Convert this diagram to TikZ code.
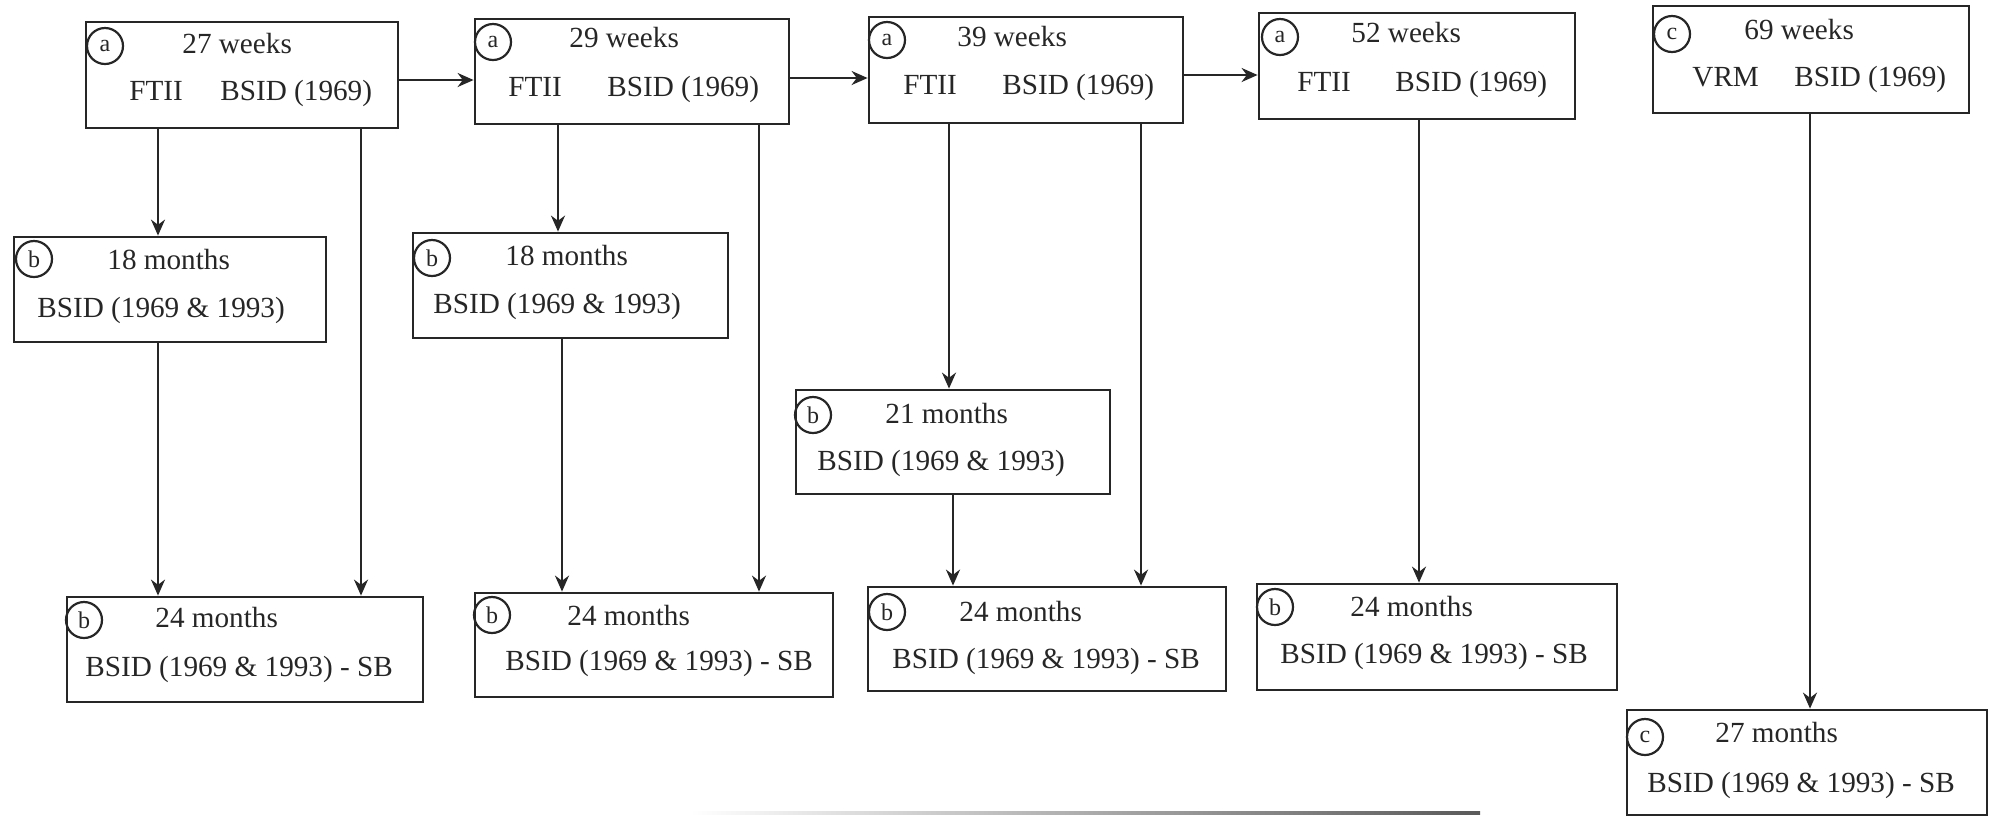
\documentclass[tikz,border=0pt]{standalone}
\usepackage{fontspec}
\setmainfont{Liberation Serif}
\usetikzlibrary{arrows.meta,fit}
\definecolor{ink}{HTML}{262626}
\tikzset{
  box/.style={draw=ink, line width=1.4pt, rectangle, inner sep=0pt},
  txt/.style={anchor=base west, inner sep=0pt, text=ink, font=\fontsize{14.6pt}{16pt}\selectfont},
  tag/.style={draw=ink, circle, line width=1.1pt, minimum size=18pt, inner sep=0pt, text=ink, font=\fontsize{12pt}{13pt}\selectfont},
  arr/.style={draw=ink, line width=1.1pt, -{Stealth[length=8pt,width=7pt]}},
}
\begin{document}
\begin{tikzpicture}[x=0.5pt,y=-0.5pt]
\useasboundingbox (0,0) rectangle (1991,816);
% ---------- boxes ----------
\node[box, fit={(86,22) (398,128)}] (A1) {};
\node[box, fit={(475,19) (789,124)}] (A2) {};
\node[box, fit={(869,17) (1183,123)}] (A3) {};
\node[box, fit={(1259,13) (1575,119)}] (A4) {};
\node[box, fit={(1653,6) (1969,113)}] (D) {};
\node[box, fit={(14,237) (326,342)}] (B1) {};
\node[box, fit={(413,233) (728,338)}] (B2) {};
\node[box, fit={(796,390) (1110,494)}] (B3) {};
\node[box, fit={(67,597) (423,702)}] (C1) {};
\node[box, fit={(475,593) (833,697)}] (C2) {};
\node[box, fit={(868,587) (1226,691)}] (C3) {};
\node[box, fit={(1257,584) (1617,690)}] (C4) {};
\node[box, fit={(1627,710) (1987,815)}] (E) {};
% ---------- circled tags ----------
\node[tag] (A1c) at (105,46) {a};
\node[tag] (A2c) at (493,42) {a};
\node[tag] (A3c) at (887,40) {a};
\node[tag] (A4c) at (1280,37) {a};
\node[tag] (Dc) at (1672,34) {c};
\node[tag] (B1c) at (34,259) {b};
\node[tag] (B2c) at (432,258) {b};
\node[tag] (B3c) at (813,415) {b};
\node[tag] (C1c) at (84,620) {b};
\node[tag] (C2c) at (492,615) {b};
\node[tag] (C3c) at (887,612) {b};
\node[tag] (C4c) at (1275,607) {b};
\node[tag] (Ec) at (1645,737) {c};
% ---------- texts ----------
\node[txt] (A1t) at (182,53) {27 weeks};
\node[txt] (A1f) at (129,100) {FTII};
\node[txt] (A1b) at (220,100) {BSID (1969)};
\node[txt] (A2t) at (569,47) {29 weeks};
\node[txt] (A2f) at (508,96) {FTII};
\node[txt] (A2b) at (607,96) {BSID (1969)};
\node[txt] (A3t) at (957,46) {39 weeks};
\node[txt] (A3f) at (903,94) {FTII};
\node[txt] (A3b) at (1002,94) {BSID (1969)};
\node[txt] (A4t) at (1351,42) {52 weeks};
\node[txt] (A4f) at (1297,91) {FTII};
\node[txt] (A4b) at (1395,91) {BSID (1969)};
\node[txt] (Dt) at (1744,39) {69 weeks};
\node[txt] (Df) at (1692,86) {VRM};
\node[txt] (Db) at (1794,86) {BSID (1969)};
\node[txt] (B1t) at (107,269) {18 months};
\node[txt] (B1b) at (37,317) {BSID (1969 \& 1993)};
\node[txt] (B2t) at (505,265) {18 months};
\node[txt] (B2b) at (433,313) {BSID (1969 \& 1993)};
\node[txt] (B3t) at (885,423) {21 months};
\node[txt] (B3b) at (817,470) {BSID (1969 \& 1993)};
\node[txt] (C1t) at (155,627) {24 months};
\node[txt] (C1b) at (85,676) {BSID (1969 \& 1993) - SB};
\node[txt] (C2t) at (567,625) {24 months};
\node[txt] (C2b) at (505,670) {BSID (1969 \& 1993) - SB};
\node[txt] (C3t) at (959,621) {24 months};
\node[txt] (C3b) at (892,668) {BSID (1969 \& 1993) - SB};
\node[txt] (C4t) at (1350,616) {24 months};
\node[txt] (C4b) at (1280,663) {BSID (1969 \& 1993) - SB};
\node[txt] (Et) at (1715,742) {27 months};
\node[txt] (Eb) at (1647,792) {BSID (1969 \& 1993) - SB};
% ---------- guide coordinates ----------
\coordinate (h1) at (0,80);
\coordinate (h2) at (0,78);
\coordinate (h3) at (0,75);
\coordinate (v1) at (158,0);
\coordinate (v2) at (361,0);
\coordinate (v3) at (558,0);
\coordinate (v4) at (562,0);
\coordinate (v5) at (759,0);
\coordinate (v6) at (949,0);
\coordinate (v7) at (953,0);
\coordinate (v8) at (1141,0);
\coordinate (v9) at (1419,0);
\coordinate (v10) at (1810,0);
% ---------- connectors ----------
\draw[arr] (A1.east |- h1) -- (A2.west |- h1);
\draw[arr] (A2.east |- h2) -- (A3.west |- h2);
\draw[arr] (A3.east |- h3) -- (A4.west |- h3);
\draw[arr] (A1.south -| v1) -- (B1.north -| v1);
\draw[arr] (B1.south -| v1) -- (C1.north -| v1);
\draw[arr] (A1.south -| v2) -- (C1.north -| v2);
\draw[arr] (A2.south -| v3) -- (B2.north -| v3);
\draw[arr] (B2.south -| v4) -- (C2.north -| v4);
\draw[arr] (A2.south -| v5) -- (C2.north -| v5);
\draw[arr] (A3.south -| v6) -- (B3.north -| v6);
\draw[arr] (B3.south -| v7) -- (C3.north -| v7);
\draw[arr] (A3.south -| v8) -- (C3.north -| v8);
\draw[arr] (A4.south -| v9) -- (C4.north -| v9);
\draw[arr] (D.south -| v10) -- (E.north -| v10);
% ---------- faint scan line at the bottom ----------
\coordinate (s1) at (690,811.5);
\coordinate (s2) at (1480,814);
\shade[left color=white, right color=black!65] (s1) rectangle (s2);
\end{tikzpicture}
\end{document}
